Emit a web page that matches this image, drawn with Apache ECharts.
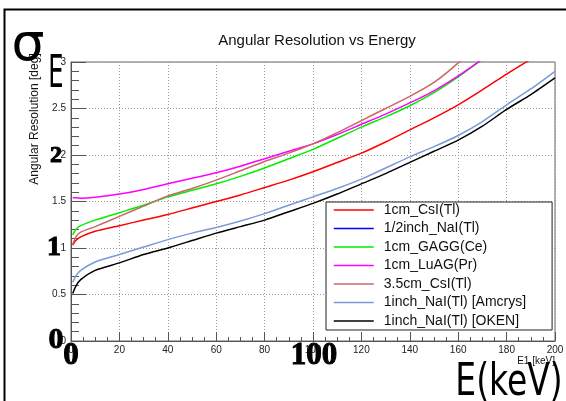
<!DOCTYPE html>
<html>
<head>
<meta charset="utf-8">
<script src="https://cdn.jsdelivr.net/npm/echarts@6/dist/echarts.min.js"></script>
<style>
  html, body { margin: 0; padding: 0; background: #fff; }
  #chart { width: 566px; height: 401px; }
</style>
</head>
<body>
<div id="chart"></div>
<script>
// energies [keV]
const energy = [0.7, 2, 4, 10, 20, 30, 40, 50, 60, 70, 80, 90, 100, 110, 120, 130, 140, 150, 160, 170, 180, 190, 200];

const names = ['1cm_CsI(Tl)', '1/2inch_NaI(Tl)', '1cm_GAGG(Ce)', '1cm_LuAG(Pr)', '3.5cm_CsI(Tl)', '1inch_NaI(Tl) [Amcrys]', '1inch_NaI(Tl) [OKEN]'];
const colors = ['#ff0000', '#0000ff', '#00ee00', '#ff00ff', '#cc6666', '#7b9ad8', '#000000'];

const csi1cm   = [1.03, 1.08, 1.12, 1.18, 1.24, 1.30, 1.36, 1.43, 1.50, 1.57, 1.65, 1.73, 1.82, 1.92, 2.02, 2.14, 2.27, 2.40, 2.54, 2.70, 2.87, 3.03, null];
const naiHalf  = [null, null, null, null, null, null, null, null, null, null, null, null, null, null, null, null, null, null, null, null, null, null, null];
const gagg     = [1.14, 1.20, 1.24, 1.30, 1.38, 1.46, 1.55, 1.62, 1.69, 1.77, 1.86, 1.96, 2.06, 2.18, 2.30, 2.41, 2.53, 2.67, 2.84, 3.03, null, null, null];
const luag     = [1.54, 1.54, 1.535, 1.545, 1.58, 1.63, 1.69, 1.75, 1.81, 1.88, 1.96, 2.04, 2.12, 2.22, 2.33, 2.44, 2.56, 2.69, 2.85, 3.03, null, null, null];
const csi35    = [1.04, 1.12, 1.17, 1.23, 1.34, 1.45, 1.56, 1.64, 1.73, 1.83, 1.93, 2.02, 2.12, 2.24, 2.37, 2.50, 2.63, 2.78, 2.99, 3.25, null, null, null];
const amcrys   = [0.63, 0.70, 0.76, 0.85, 0.93, 1.01, 1.09, 1.16, 1.22, 1.29, 1.37, 1.46, 1.55, 1.64, 1.74, 1.86, 1.98, 2.09, 2.21, 2.36, 2.54, 2.71, 2.90];
const oken     = [0.51, 0.59, 0.66, 0.76, 0.84, 0.93, 1.00, 1.08, 1.16, 1.23, 1.30, 1.39, 1.48, 1.58, 1.69, 1.80, 1.92, 2.04, 2.16, 2.31, 2.49, 2.65, 2.83];

const values = [csi1cm, naiHalf, gagg, luag, csi35, amcrys, oken];

const chart = echarts.init(document.getElementById('chart'));

const series = values.map((v, i) => ({
  name: names[i],
  type: 'line',
  symbol: 'none',
  smooth: 0.2,
  clip: true,
  lineStyle: { color: colors[i], width: 1.5 },
  itemStyle: { color: colors[i] },
  data: energy.map((e, j) => [e, v[j]])
}));

const serif = '"Liberation Serif", "DejaVu Serif", serif';
const bigDigit = (txt, x, y, size) => ({
  type: 'text', x, y, z: 100,
  style: {
    text: txt, font: 'bold ' + size + 'px ' + serif, fill: '#000',
    stroke: '#000', lineWidth: 1, align: 'center', verticalAlign: 'middle'
  }
});

chart.setOption({
  animation: false,
  backgroundColor: '#fff',
  title: {
    text: 'Angular Resolution vs Energy',
    left: 312, top: 28, textAlign: 'center',
    textStyle: { fontFamily: 'Liberation Sans', fontSize: 15, fontWeight: 'normal', color: '#111' }
  },
  grid: {
    left: 71, right: 11, top: 62, bottom: 60,
    show: true, borderColor: '#666', borderWidth: 1,
    outerBoundsMode: 'none'
  },
  xAxis: {
    type: 'value', min: 0, max: 200, interval: 20,
    axisLine: { lineStyle: { color: '#555' } },
    axisTick: { inside: true, length: 9, lineStyle: { color: '#555' } },
    minorTick: { show: true, splitNumber: 4, length: 4, lineStyle: { color: '#555' } },
    splitLine: { show: true, lineStyle: { color: '#999', type: [1, 2] } },
    axisLabel: { fontFamily: 'Liberation Sans', fontSize: 10, color: '#222', margin: 4 }
  },
  yAxis: {
    type: 'value', min: 0, max: 3, interval: 0.5,
    axisLine: { show: true, lineStyle: { color: '#555' } },
    axisTick: { show: true, inside: true, length: 15, lineStyle: { color: '#555' } },
    minorTick: { show: true, splitNumber: 5, length: 8, lineStyle: { color: '#555' } },
    splitLine: { show: true, lineStyle: { color: '#999', type: [1, 2] } },
    axisLabel: { fontFamily: 'Liberation Sans', fontSize: 10, color: '#222', margin: 5 }
  },
  legend: {
    orient: 'vertical',
    left: 326, top: 202,
    padding: [1, 26, 2, 7],
    itemWidth: 40, itemHeight: 14, itemGap: 4.5,
    itemStyle: { opacity: 0 },
    lineStyle: { width: 1.5 },
    backgroundColor: '#fff', borderColor: '#222', borderWidth: 1,
    textStyle: { fontFamily: 'Liberation Sans', fontSize: 14, color: '#111', padding: [0, 0, 0, 5] },
    data: names
  },
  series,
  graphic: [
    { type: 'rect', shape: { x: 4.5, y: 9.5, width: 700, height: 600 }, style: { fill: 'none', stroke: '#000', lineWidth: 2 }, z: 100 },
    { type: 'text', x: 35, y: 119, rotation: Math.PI / 2,
      style: { text: 'Angular Resolution [deg]', font: '12px "Liberation Sans"', fill: '#111', align: 'center', verticalAlign: 'middle' } },
    { type: 'text', x: 555, y: 361,
      style: { text: 'E1 [keV]', font: '10px "Liberation Sans"', fill: '#111', align: 'right', verticalAlign: 'middle' } },
    { type: 'text', x: 28, y: 46, z: 100,
      style: { text: 'σ', font: '52px "DejaVu Sans"', fill: '#000', align: 'center', verticalAlign: 'middle' } },
    { type: 'text', x: 56, y: 76, scaleX: 0.55, z: 100,
      style: { text: 'E', font: '44px "DejaVu Sans"', fill: '#000', align: 'center', verticalAlign: 'middle' } },
    { type: 'text', x: 509, y: 384, scaleX: 0.75, z: 100,
      style: { text: 'E(keV)', font: '44px "DejaVu Sans"', fill: '#000', align: 'center', verticalAlign: 'middle' } },
    bigDigit('2', 56, 156, 24),
    bigDigit('1', 54, 248, 28),
    bigDigit('0', 56, 340, 30),
    bigDigit('0', 71, 356, 31),
    bigDigit('100', 314, 356, 31)
  ]
});

window.onresize = () => chart.resize();
</script>
</body>
</html>
